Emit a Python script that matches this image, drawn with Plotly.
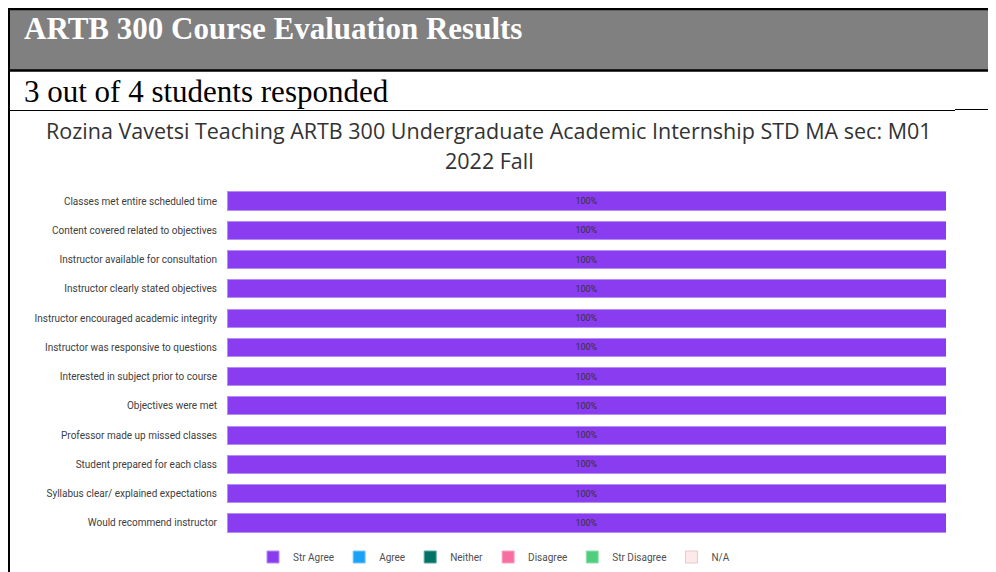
import plotly.graph_objects as go

W, H = 988, 572
OFF = 8  # page body margin offset

questions = [
    "Classes met entire scheduled time",
    "Content covered related to objectives",
    "Instructor available for consultation",
    "Instructor clearly stated objectives",
    "Instructor encouraged academic integrity",
    "Instructor was responsive to questions",
    "Interested in subject prior to course",
    "Objectives were met",
    "Professor made up missed classes",
    "Student prepared for each class",
    "Syllabus clear/ explained expectations",
    "Would recommend instructor",
]
categories = ["Str Agree", "Agree", "Neither", "Disagree", "Str Disagree", "N/A"]
pct_str_agree = [100] * 12
pct_agree = [0] * 12
pct_neither = [0] * 12
pct_disagree = [0] * 12
pct_str_disagree = [0] * 12
pct_na = [0] * 12
series = [pct_str_agree, pct_agree, pct_neither, pct_disagree, pct_str_disagree, pct_na]
colors = ["#8a3cf0", "#1aa3f5", "#007366", "#f76fa0", "#4fcf7d", "#fde9e9"]
lines = ["#b48ef5", "#7cc8f8", "#5fa39b", "#f9a3c2", "#93e0ae", "#e8c8c8"]

fig = go.Figure()
for name, vals, c, lc in zip(categories, series, colors, lines):
    fig.add_trace(go.Bar(
        y=questions, x=vals, name=name, orientation="h",
        marker=dict(color=c, line=dict(color=lc, width=1)),
        text=[f"{v}%" if v > 0 else "" for v in vals],
        textposition="inside", insidetextanchor="middle",
        textfont=dict(family="Roboto, Noto Sans, sans-serif", size=9, color="#333333"),
        hoverinfo="x+y+name",
    ))


def px(x):
    return (x - OFF) / W


def py(y):
    return 1 - (y - OFF) / H


shapes = [
    dict(type="rect", xref="paper", yref="paper", x0=px(8), x1=px(1030), y0=py(70), y1=py(9),
         fillcolor="#808080", line=dict(width=0), layer="below"),
    dict(type="line", xref="paper", yref="paper", x0=px(8), x1=px(1030), y0=py(9), y1=py(9),
         line=dict(color="black", width=2.5)),
    dict(type="line", xref="paper", yref="paper", x0=px(8), x1=px(1030), y0=py(70.5), y1=py(70.5),
         line=dict(color="black", width=2.5)),
    dict(type="line", xref="paper", yref="paper", x0=px(9), x1=px(9), y0=py(8), y1=py(620),
         line=dict(color="black", width=2)),
    dict(type="line", xref="paper", yref="paper", x0=px(8), x1=px(955), y0=py(110.5), y1=py(110.5),
         line=dict(color="black", width=1.2)),
    dict(type="line", xref="paper", yref="paper", x0=px(955), x1=px(1030), y0=py(109.5), y1=py(109.5),
         line=dict(color="black", width=1.2)),
]

annotations = [
    dict(text="<b>ARTB 300 Course Evaluation Results</b>", xref="paper", yref="paper",
         x=px(22), y=py(28.5), xanchor="left", yanchor="middle", showarrow=False,
         font=dict(family="Liberation Serif, Times New Roman, serif", size=31, color="white")),
    dict(text="3 out of 4 students responded", xref="paper", yref="paper",
         x=px(22), y=py(91), xanchor="left", yanchor="middle", showarrow=False,
         font=dict(family="Liberation Serif, Times New Roman, serif", size=31, color="black")),
    dict(text="Rozina Vavetsi Teaching ARTB 300 Undergraduate Academic Internship STD MA sec: M01",
         xref="paper", yref="paper", x=px(489), y=py(130), xanchor="center", yanchor="middle",
         showarrow=False,
         font=dict(family="Open Sans, Noto Sans, sans-serif", size=21.5, color="#333333")),
    dict(text="2022 Fall",
         xref="paper", yref="paper", x=px(489), y=py(160), xanchor="center", yanchor="middle",
         showarrow=False,
         font=dict(family="Open Sans, Noto Sans, sans-serif", size=21.5, color="#333333")),
]

fig.update_layout(
    width=W, height=H,
    margin=dict(l=0, r=0, t=0, b=0),
    paper_bgcolor="white", plot_bgcolor="white",
    barmode="stack", bargap=0.38,
    shapes=shapes, annotations=annotations,
    xaxis=dict(domain=[px(227), px(946)], range=[0, 100], visible=False, fixedrange=True),
    yaxis=dict(domain=[py(537.6), py(186.4)], autorange="reversed", showgrid=False,
               showline=False, zeroline=False, ticks="", ticklabelstandoff=9,
               tickfont=dict(family="Roboto, Noto Sans, sans-serif", size=10, color="#404040")),
    legend=dict(orientation="h", x=px(494), xanchor="center", y=py(557), yanchor="middle",
                font=dict(family="Roboto, Noto Sans, sans-serif", size=10, color="#505050"),
                itemwidth=30, tracegroupgap=0,
                traceorder="normal", itemclick=False, bgcolor="rgba(0,0,0,0)"),
    showlegend=True,
)

fig.write_html("out.html")
